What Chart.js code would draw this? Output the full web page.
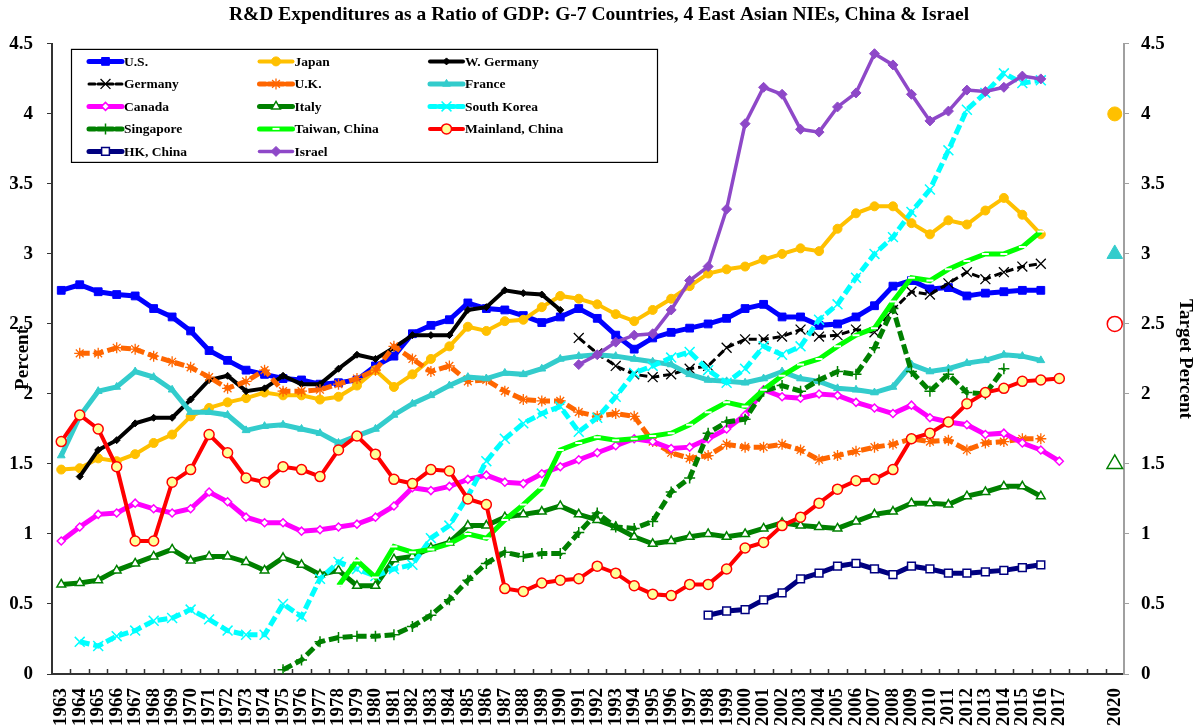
<!DOCTYPE html>
<html>
<head>
<meta charset="utf-8">
<title>R&amp;D Expenditures as a Ratio of GDP</title>
<script src="https://cdn.jsdelivr.net/npm/chart.js@4.4.1/dist/chart.umd.min.js"></script>
<style>
    html, body { margin: 0; padding: 0; background: #fff; }
    #wrap { position: relative; width: 1198px; height: 727px; }
</style>
</head>
<body>
<div id="wrap"><canvas id="rd-chart"></canvas></div>
<script>
// Categories (2018 and 2019 have no label)
const years = [
    1963, 1964, 1965, 1966, 1967, 1968, 1969, 1970, 1971, 1972,
    1973, 1974, 1975, 1976, 1977, 1978, 1979, 1980, 1981, 1982,
    1983, 1984, 1985, 1986, 1987, 1988, 1989, 1990, 1991, 1992,
    1993, 1994, 1995, 1996, 1997, 1998, 1999, 2000, 2001, 2002,
    2003, 2004, 2005, 2006, 2007, 2008, 2009, 2010, 2011, 2012,
    2013, 2014, 2015, 2016, 2017, 2018, 2019, 2020
];
const hiddenYears = [2018, 2019];
const yTicks = [0, 0.5, 1, 1.5, 2, 2.5, 3, 3.5, 4, 4.5];

// Series values, each starting at its first year
const usStart = 1963;
const usValues = [2.74, 2.78, 2.73, 2.71, 2.70, 2.61, 2.55, 2.45, 2.31, 2.24,
    2.17, 2.14, 2.11, 2.10, 2.07, 2.08, 2.10, 2.20, 2.27, 2.43,
    2.49, 2.53, 2.65, 2.61, 2.60, 2.56, 2.51, 2.55, 2.61, 2.54,
    2.42, 2.32, 2.40, 2.44, 2.47, 2.50, 2.54, 2.61, 2.64, 2.55,
    2.55, 2.49, 2.50, 2.55, 2.63, 2.77, 2.81, 2.75, 2.76, 2.70,
    2.72, 2.73, 2.74, 2.74];

const japanStart = 1963;
const japanValues = [1.46, 1.47, 1.54, 1.52, 1.57, 1.65, 1.71, 1.84, 1.90, 1.94,
    1.97, 2.01, 1.99, 1.99, 1.96, 1.98, 2.06, 2.17, 2.05, 2.14,
    2.25, 2.34, 2.48, 2.45, 2.52, 2.53, 2.62, 2.70, 2.68, 2.64,
    2.57, 2.52, 2.60, 2.68, 2.77, 2.86, 2.89, 2.91, 2.96, 3.00,
    3.04, 3.02, 3.18, 3.29, 3.34, 3.34, 3.22, 3.14, 3.24, 3.21,
    3.31, 3.40, 3.28, 3.14];

const wGermanyStart = 1964;
const wGermanyValues = [1.41, 1.60, 1.67, 1.79, 1.83, 1.83, 1.96, 2.10, 2.13, 2.02,
    2.04, 2.13, 2.07, 2.07, 2.18, 2.28, 2.25, 2.33, 2.42, 2.42,
    2.42, 2.60, 2.62, 2.74, 2.72, 2.71, 2.60];

const germanyStart = 1991;
const germanyValues = [2.40, 2.29, 2.20, 2.14, 2.12, 2.14, 2.18, 2.20, 2.33, 2.39,
    2.39, 2.41, 2.46, 2.41, 2.42, 2.46, 2.44, 2.60, 2.73, 2.71,
    2.79, 2.87, 2.82, 2.87, 2.91, 2.93];

const ukStart = 1964;
const ukValues = [2.29, 2.29, 2.33, 2.32, 2.27, 2.23, 2.19, 2.12, 2.04, 2.09,
    2.17, 2.02, 2.02, 2.03, 2.07, 2.11, 2.17, 2.34, 2.25, 2.16,
    2.20, 2.09, 2.10, 2.02, 1.96, 1.95, 1.95, 1.87, 1.84, 1.86,
    1.84, 1.66, 1.58, 1.54, 1.56, 1.64, 1.62, 1.62, 1.64, 1.60,
    1.53, 1.56, 1.59, 1.62, 1.64, 1.68, 1.66, 1.67, 1.60, 1.65,
    1.66, 1.68, 1.68];

const franceStart = 1963;
const franceValues = [1.56, 1.84, 2.02, 2.05, 2.16, 2.12, 2.03, 1.87, 1.87, 1.85,
    1.74, 1.77, 1.78, 1.75, 1.72, 1.65, 1.70, 1.75, 1.85, 1.93,
    1.99, 2.06, 2.12, 2.11, 2.15, 2.14, 2.18, 2.25, 2.27, 2.28,
    2.27, 2.25, 2.23, 2.21, 2.14, 2.10, 2.09, 2.08, 2.11, 2.16,
    2.11, 2.09, 2.04, 2.03, 2.01, 2.05, 2.21, 2.16, 2.18, 2.22,
    2.24, 2.28, 2.27, 2.24];

const canadaStart = 1963;
const canadaValues = [0.95, 1.05, 1.14, 1.15, 1.22, 1.18, 1.15, 1.18, 1.30, 1.23,
    1.12, 1.08, 1.08, 1.02, 1.03, 1.05, 1.07, 1.12, 1.20, 1.33,
    1.31, 1.34, 1.39, 1.42, 1.37, 1.36, 1.43, 1.48, 1.53, 1.58,
    1.63, 1.68, 1.66, 1.61, 1.62, 1.68, 1.75, 1.85, 2.03, 1.98,
    1.97, 2.00, 1.99, 1.94, 1.90, 1.86, 1.92, 1.83, 1.80, 1.78,
    1.71, 1.72, 1.65, 1.60, 1.52];

const italyStart = 1963;
const italyValues = [0.64, 0.65, 0.67, 0.74, 0.79, 0.84, 0.89, 0.81, 0.84, 0.84,
    0.80, 0.74, 0.83, 0.78, 0.71, 0.74, 0.63, 0.63, 0.82, 0.84,
    0.90, 0.94, 1.06, 1.06, 1.12, 1.14, 1.16, 1.20, 1.14, 1.10,
    1.05, 0.98, 0.93, 0.95, 0.98, 1.00, 0.98, 1.00, 1.04, 1.08,
    1.06, 1.05, 1.04, 1.09, 1.14, 1.16, 1.22, 1.22, 1.21, 1.27,
    1.30, 1.34, 1.34, 1.27];

const koreaStart = 1964;
const koreaValues = [0.23, 0.20, 0.27, 0.31, 0.38, 0.40, 0.46, 0.39, 0.31, 0.28,
    0.28, 0.50, 0.41, 0.68, 0.80, 0.75, 0.70, 0.75, 0.78, 0.97,
    1.06, 1.27, 1.52, 1.68, 1.79, 1.86, 1.91, 1.73, 1.83, 1.98,
    2.15, 2.20, 2.26, 2.30, 2.17, 2.08, 2.18, 2.34, 2.28, 2.34,
    2.53, 2.64, 2.83, 3.00, 3.12, 3.30, 3.46, 3.74, 4.03, 4.15,
    4.29, 4.22, 4.24];

const singaporeStart = 1975;
const singaporeValues = [0.03, 0.10, 0.23, 0.26, 0.27, 0.27, 0.28, 0.34, 0.42, 0.53,
    0.67, 0.79, 0.87, 0.84, 0.86, 0.86, 1.01, 1.15, 1.05, 1.04,
    1.09, 1.30, 1.40, 1.72, 1.80, 1.82, 2.02, 2.06, 2.02, 2.10,
    2.16, 2.14, 2.33, 2.61, 2.16, 2.02, 2.14, 2.01, 2.00, 2.18];

const taiwanStart = 1978;
const taiwanValues = [0.63, 0.81, 0.69, 0.91, 0.87, 0.89, 0.93, 1.00, 0.97, 1.10,
    1.21, 1.33, 1.60, 1.65, 1.69, 1.67, 1.68, 1.70, 1.72, 1.78,
    1.87, 1.94, 1.91, 2.03, 2.13, 2.21, 2.25, 2.34, 2.42, 2.47,
    2.66, 2.83, 2.81, 2.89, 2.95, 3.00, 3.00, 3.05, 3.16];

const chinaStart = 1963;
const chinaValues = [1.66, 1.85, 1.75, 1.48, 0.95, 0.95, 1.37, 1.46, 1.71, 1.58,
    1.40, 1.37, 1.48, 1.46, 1.41, 1.60, 1.70, 1.57, 1.39, 1.36,
    1.46, 1.45, 1.25, 1.21, 0.61, 0.59, 0.65, 0.67, 0.68, 0.77,
    0.72, 0.63, 0.57, 0.56, 0.64, 0.64, 0.75, 0.90, 0.94, 1.06,
    1.12, 1.22, 1.32, 1.38, 1.39, 1.46, 1.68, 1.72, 1.80, 1.93,
    2.01, 2.04, 2.09, 2.10, 2.11];

const hkStart = 1998;
const hkValues = [0.42, 0.45, 0.46, 0.53, 0.58, 0.68, 0.72, 0.77, 0.79, 0.75,
    0.71, 0.77, 0.75, 0.72, 0.72, 0.73, 0.74, 0.76, 0.78];

const israelStart = 1991;
const israelValues = [2.21, 2.28, 2.37, 2.42, 2.43, 2.60, 2.81, 2.91, 3.32, 3.93,
    4.19, 4.14, 3.89, 3.87, 4.05, 4.15, 4.43, 4.35, 4.14, 3.95,
    4.02, 4.17, 4.16, 4.19, 4.27, 4.25];

// Targets for 2020 (right axis)
const targetYear = 2020;
const japanTarget = [4];
const franceTarget = [3];
const chinaTarget = [2.5];
const italyTarget = [1.5];

const serif = 'Liberation Serif';

function fromYear(start, values) {
    const out = years.map(() => null);
    values.forEach((v, i) => {
        const idx = years.indexOf(start + i);
        if (idx >= 0) out[idx] = v;
    });
    return out;
}

function series(label, start, values, style) {
    return Object.assign({
        label: label,
        data: fromYear(start, values),
        yAxisID: 'y',
        fill: false,
        tension: 0,
        spanGaps: false,
        pointHoverRadius: style.pointRadius
    }, style);
}

function target(label, values, style) {
    return Object.assign({
        label: label,
        data: fromYear(targetYear, values),
        yAxisID: 'y2',
        showLine: false,
        isTarget: true,
        pointHoverRadius: style.pointRadius
    }, style);
}

const datasets = [
    series('U.S.', usStart, usValues, {
        borderColor: '#0000FF', borderWidth: 5,
        pointStyle: 'rect', pointRadius: 5.5,
        pointBackgroundColor: '#0000FF', pointBorderColor: '#0000FF', pointBorderWidth: 1
    }),
    series('Japan', japanStart, japanValues, {
        borderColor: '#FFC000', borderWidth: 4,
        pointStyle: 'circle', pointRadius: 4.5,
        pointBackgroundColor: '#FFC000', pointBorderColor: '#FFC000', pointBorderWidth: 1
    }),
    series('W. Germany', wGermanyStart, wGermanyValues, {
        borderColor: '#000000', borderWidth: 4,
        pointStyle: 'rectRot', pointRadius: 3.5,
        pointBackgroundColor: '#000000', pointBorderColor: '#000000', pointBorderWidth: 1
    }),
    series('Germany', germanyStart, germanyValues, {
        borderColor: '#000000', borderWidth: 3, borderDash: [8, 4],
        pointStyle: 'crossRot', pointRadius: 7,
        pointBackgroundColor: '#000000', pointBorderColor: '#000000', pointBorderWidth: 1.3
    }),
    series('U.K.', ukStart, ukValues, {
        borderColor: '#FF6600', borderWidth: 5, borderDash: [10, 4],
        pointStyle: 'star', pointRadius: 5.5,
        pointBackgroundColor: '#FF6600', pointBorderColor: '#FF6600', pointBorderWidth: 1.3
    }),
    series('France', franceStart, franceValues, {
        borderColor: '#33CCCC', borderWidth: 5,
        pointStyle: 'triangle', pointRadius: 4.5,
        pointBackgroundColor: '#33CCCC', pointBorderColor: '#33CCCC', pointBorderWidth: 1
    }),
    series('Canada', canadaStart, canadaValues, {
        borderColor: '#FF00FF', borderWidth: 5,
        pointStyle: 'rectRot', pointRadius: 4,
        pointBackgroundColor: '#FFFFFF', pointBorderColor: '#FF00FF', pointBorderWidth: 1.5
    }),
    series('Italy', italyStart, italyValues, {
        borderColor: '#008000', borderWidth: 5,
        pointStyle: 'triangle', pointRadius: 5,
        pointBackgroundColor: '#FFFFFF', pointBorderColor: '#008000', pointBorderWidth: 1.5
    }),
    series('South Korea', koreaStart, koreaValues, {
        borderColor: '#00FFFF', borderWidth: 5, borderDash: [10, 4],
        pointStyle: 'crossRot', pointRadius: 7,
        pointBackgroundColor: '#00FFFF', pointBorderColor: '#00FFFF', pointBorderWidth: 1.5
    }),
    series('Singapore', singaporeStart, singaporeValues, {
        borderColor: '#008000', borderWidth: 5, borderDash: [10, 4],
        pointStyle: 'cross', pointRadius: 5.5,
        pointBackgroundColor: '#008000', pointBorderColor: '#008000', pointBorderWidth: 1.5
    }),
    series('Taiwan, China', taiwanStart, taiwanValues, {
        borderColor: '#00FF00', borderWidth: 5,
        pointStyle: 'line', pointRadius: 3.5,
        pointBackgroundColor: '#FFFFFF', pointBorderColor: '#FFFFFF', pointBorderWidth: 2
    }),
    series('Mainland, China', chinaStart, chinaValues, {
        borderColor: '#FF0000', borderWidth: 4,
        pointStyle: 'circle', pointRadius: 5,
        pointBackgroundColor: '#FFFF99', pointBorderColor: '#FF0000', pointBorderWidth: 1.5
    }),
    series('HK, China', hkStart, hkValues, {
        borderColor: '#000080', borderWidth: 5,
        pointStyle: 'rect', pointRadius: 5.5,
        pointBackgroundColor: '#FFFFFF', pointBorderColor: '#000080', pointBorderWidth: 1.5
    }),
    series('Israel', israelStart, israelValues, {
        borderColor: '#8E48C8', borderWidth: 3.5,
        pointStyle: 'rectRot', pointRadius: 5,
        pointBackgroundColor: '#8E48C8', pointBorderColor: '#8E48C8', pointBorderWidth: 1
    }),
    target('Japan target', japanTarget, {
        pointStyle: 'circle', pointRadius: 7,
        pointBackgroundColor: '#FFC000', pointBorderColor: '#FFC000', pointBorderWidth: 1
    }),
    target('France target', franceTarget, {
        pointStyle: 'triangle', pointRadius: 9,
        pointBackgroundColor: '#33CCCC', pointBorderColor: '#33CCCC', pointBorderWidth: 1
    }),
    target('China target', chinaTarget, {
        pointStyle: 'circle', pointRadius: 7.5,
        pointBackgroundColor: '#FFFFFF', pointBorderColor: '#FF0000', pointBorderWidth: 1.5
    }),
    target('Italy target', italyTarget, {
        pointStyle: 'triangle', pointRadius: 9,
        pointBackgroundColor: '#FFFFFF', pointBorderColor: '#008000', pointBorderWidth: 1.5
    })
];

// later series are drawn on top, as in the original
datasets.forEach((ds, i) => { ds.order = datasets.length - i; });

// Inward tick marks on the category axis
const innerTicks = {
    id: 'innerTicks',
    afterDraw(chart) {
        const x = chart.scales.x;
        const ctx = chart.ctx;
        const step = (x.right - x.left) / years.length;
        ctx.save();
        ctx.strokeStyle = '#333333';
        ctx.lineWidth = 1.5;
        ctx.beginPath();
        for (let i = 1; i < years.length; i++) {
            const px = Math.round(x.left + i * step) + 0.5;
            ctx.moveTo(px, x.top);
            ctx.lineTo(px, x.top - 5);
        }
        ctx.stroke();
        ctx.restore();
    }
};

// Boxed legend in three columns
const boxLegend = {
    id: 'boxLegend',
    afterDatasetsDraw(chart) {
        const ctx = chart.ctx;
        const area = chart.chartArea;
        const left = area.left + 19, top = area.top + 5;
        const w = 586, h = 113;
        ctx.save();
        ctx.fillStyle = '#FFFFFF';
        ctx.fillRect(left, top, w, h);
        ctx.strokeStyle = '#000000';
        ctx.lineWidth = 1.2;
        ctx.strokeRect(left + 0.5, top + 0.5, w, h);

        const items = chart.data.datasets.filter(d => !d.isTarget);
        items.forEach((ds, k) => {
            const col = k % 3, row = Math.floor(k / 3);
            const x0 = left + 18 + col * 170.5;
            const y = top + 12.5 + row * 22.5;

            ctx.setLineDash(ds.borderDash ? [6, 3] : []);
            ctx.lineCap = 'round';
            ctx.strokeStyle = ds.borderColor;
            ctx.lineWidth = ds.borderWidth;
            ctx.beginPath();
            ctx.moveTo(x0, y);
            ctx.lineTo(x0 + 33, y);
            ctx.stroke();

            ctx.setLineDash([]);
            ctx.lineCap = 'butt';
            if (Chart.helpers && Chart.helpers.drawPoint) {
                ctx.fillStyle = ds.pointBackgroundColor;
                ctx.strokeStyle = ds.pointBorderColor;
                ctx.lineWidth = ds.pointBorderWidth;
                Chart.helpers.drawPoint(ctx, {
                    pointStyle: ds.pointStyle,
                    radius: ds.pointRadius,
                    rotation: 0,
                    borderWidth: ds.pointBorderWidth
                }, x0 + 16.5, y);
            }

            ctx.fillStyle = '#000000';
            ctx.font = 'bold 13.5px "' + serif + '"';
            ctx.textBaseline = 'middle';
            ctx.textAlign = 'left';
            ctx.fillText(ds.label, x0 + 35, y + 1);
        });
        ctx.restore();
    }
};

const tickFont = { family: serif, size: 19, weight: 'bold' };

function plainNumber(value) {
    return String(value);
}

const ctx = document.getElementById('rd-chart').getContext('2d');
new Chart(ctx, {
    type: 'line',
    data: {
        labels: years,
        datasets: datasets
    },
    options: {
        responsive: true,
        maintainAspectRatio: false,
        animation: false,
        layout: { padding: 0 },
        plugins: {
            legend: { display: false },
            tooltip: { enabled: false },
            title: {
                display: true,
                text: 'R&D Expenditures as a Ratio of GDP: G-7 Countries, 4 East Asian NIEs, China & Israel',
                color: '#000000',
                font: { family: serif, size: 19.5, weight: 'bold' },
                padding: { top: 3, bottom: 17.5 }
            }
        },
        scales: {
            x: {
                type: 'category',
                offset: true,
                grid: { display: false, offset: true },
                border: { display: true, color: '#333333', width: 2 },
                ticks: {
                    autoSkip: false,
                    minRotation: 90,
                    maxRotation: 90,
                    padding: 6,
                    color: '#000000',
                    font: tickFont,
                    callback: function(value, index) {
                        const yr = years[index];
                        return hiddenYears.includes(yr) ? '' : String(yr);
                    }
                },
                afterFit: function(scale) { scale.height = 53; }
            },
            y: {
                position: 'left',
                min: yTicks[0],
                max: yTicks[yTicks.length - 1],
                afterBuildTicks: function(scale) { scale.ticks = yTicks.map(v => ({ value: v })); },
                grid: { drawOnChartArea: false, drawTicks: true, tickLength: 5, color: '#333333' },
                border: { display: true, color: '#333333', width: 2 },
                ticks: { color: '#000000', font: tickFont, padding: 14, callback: plainNumber },
                title: {
                    display: true,
                    text: 'Percent',
                    color: '#000000',
                    font: tickFont,
                    padding: { top: 12, bottom: 0 }
                },
                afterFit: function(scale) { scale.width = 52; }
            },
            y2: {
                position: 'right',
                min: yTicks[0],
                max: yTicks[yTicks.length - 1],
                afterBuildTicks: function(scale) { scale.ticks = yTicks.map(v => ({ value: v })); },
                grid: { drawOnChartArea: false, drawTicks: true, tickLength: 5, color: '#A0A0A0' },
                border: { display: true, color: '#A0A0A0', width: 2 },
                ticks: { color: '#000000', font: tickFont, padding: 12, callback: plainNumber },
                title: {
                    display: true,
                    text: 'Target Percent',
                    color: '#000000',
                    font: tickFont,
                    padding: { top: 2, bottom: 0 }
                },
                afterFit: function(scale) { scale.width = 74; }
            }
        }
    },
    plugins: [innerTicks, boxLegend]
});
</script>
</body>
</html>
